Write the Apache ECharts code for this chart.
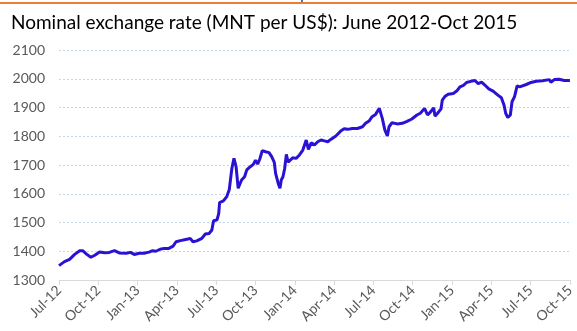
<!DOCTYPE html>
<html>
<head>
<meta charset="utf-8">
<script src="https://cdn.jsdelivr.net/npm/echarts@6/dist/echarts.min.js"></script>
<style>
  html, body { margin: 0; padding: 0; background: #fff; }
  #chart { width: 577px; height: 331px; }
</style>
</head>
<body>
<div id="chart"></div>
<script>
// MNT per US$ observations
const dates = [
  '2012-07-01','2012-07-14','2012-07-26','2012-08-07','2012-08-19','2012-08-26','2012-09-04','2012-09-14','2012-09-23',
  '2012-10-04','2012-10-16','2012-10-27','2012-11-08','2012-11-19','2012-12-05','2012-12-15','2012-12-24',
  '2013-01-05','2013-01-16','2013-01-28','2013-02-05','2013-02-12','2013-02-21','2013-03-02','2013-03-13','2013-03-23','2013-03-30',
  '2013-04-09','2013-04-21','2013-05-02','2013-05-08','2013-05-17','2013-05-29','2013-06-06','2013-06-15','2013-06-21','2013-06-25',
  '2013-07-03','2013-07-07','2013-07-09','2013-07-18','2013-07-26','2013-08-01','2013-08-07','2013-08-12','2013-08-17','2013-08-22',
  '2013-08-26','2013-08-30','2013-09-06','2013-09-11','2013-09-19','2013-09-26','2013-10-01','2013-10-06','2013-10-11','2013-10-17',
  '2013-10-25','2013-11-02','2013-11-08','2013-11-14','2013-11-17','2013-11-23','2013-11-27','2013-11-30','2013-12-04','2013-12-08',
  '2013-12-12','2013-12-16','2013-12-20','2013-12-27',
  '2014-01-04','2014-01-12','2014-01-20','2014-01-28','2014-02-02','2014-02-08','2014-02-15','2014-02-22','2014-03-01','2014-03-09',
  '2014-03-17','2014-03-24','2014-04-05','2014-04-16','2014-04-24','2014-05-02','2014-05-13','2014-05-25','2014-06-06','2014-06-13',
  '2014-06-21','2014-06-28','2014-07-06','2014-07-15','2014-07-22','2014-07-28','2014-08-03','2014-08-07','2014-08-14','2014-08-26',
  '2014-09-07','2014-09-18','2014-09-29','2014-10-11','2014-10-19','2014-10-29','2014-11-05','2014-11-11','2014-11-19','2014-11-22',
  '2014-11-28','2014-12-06','2014-12-09','2014-12-15','2014-12-23',
  '2015-01-04','2015-01-12','2015-01-20','2015-01-28','2015-02-04','2015-02-13','2015-02-22','2015-03-01','2015-03-09','2015-03-16',
  '2015-03-26','2015-04-05','2015-04-16','2015-04-24','2015-04-30','2015-05-04','2015-05-09','2015-05-15','2015-05-19','2015-05-25',
  '2015-05-31','2015-06-06','2015-06-10','2015-06-21','2015-07-02','2015-07-14','2015-07-29','2015-08-14','2015-08-18','2015-08-26',
  '2015-09-06','2015-09-18','2015-10-01'
];
const rates = [
  1350,1364,1372,1389,1402,1402,1390,1379,1386,
  1397,1395,1396,1402,1394,1393,1396,1389,
  1393,1393,1397,1402,1400,1407,1410,1410,1418,1433,
  1437,1441,1444,1433,1436,1445,1460,1462,1474,1506,
  1509,1532,1569,1575,1590,1615,1688,1723,1694,1619,
  1615,1648,1659,1683,1694,1702,1717,1703,1720,1750,
  1746,1743,1729,1709,1671,1636,1619,1648,1659,1688,
  1737,1710,1712,1725,
  1723,1735,1752,1787,1754,1777,1770,1781,1787,1784,
  1781,1789,1801,1818,1826,1824,1827,1827,1833,1845,
  1853,1868,1876,1897,1862,1822,1801,1833,1847,1843,
  1845,1852,1860,1874,1880,1897,1874,1883,1899,1870,
  1880,1895,1926,1938,1946,
  1949,1957,1972,1977,1987,1991,1994,1983,1988,1979,
  1965,1957,1943,1934,1909,1880,1865,1874,1920,1938,
  1975,1972,1975,1980,1987,1991,1993,1997,1988,1997,
  1998,1994,1994
];
// quarterly tick labels, starting July 2012
const tickLabels = ['Jul-12','Oct-12','Jan-13','Apr-13','Jul-13','Oct-13','Jan-14','Apr-14','Jul-14','Oct-14','Jan-15','Apr-15','Jul-15','Oct-15'];

// months elapsed since 1 July 2012
function monthsFromStart(s) {
  const [y, m, d] = s.split('-').map(Number);
  const dim = new Date(y, m, 0).getDate();
  return (y - 2012) * 12 + (m - 7) + (d - 1) / dim;
}
const points = dates.map((d, i) => [monthsFromStart(d), rates[i]]);

const font = 'Lato, "Open Sans", sans-serif';
const chart = echarts.init(document.getElementById('chart'));
chart.setOption({
  animation: false,
  title: {
    text: 'Nominal exchange rate (MNT per US$): June 2012-Oct 2015',
    left: 6, top: 8,
    textStyle: { fontFamily: font, fontSize: 19, fontWeight: 'normal', color: '#000' }
  },
  graphic: [
    { type: 'rect', shape: { x: 0, y: 2, width: 577, height: 2 }, style: { fill: '#ed7d31' } },
    { type: 'rect', shape: { x: 301, y: 0, width: 2, height: 2 }, style: { fill: '#4472c4' } }
  ],
  grid: { left: 59, right: 3, top: 50, bottom: 51 },
  xAxis: {
    type: 'value',
    min: 0, max: 39, interval: 3,
    axisLine: { show: true, lineStyle: { color: '#d9d9d9', width: 1 } },
    axisTick: { show: true, length: 5, lineStyle: { color: '#d9d9d9' } },
    splitLine: { show: false },
    axisLabel: {
      rotate: 45, margin: 8,
      color: '#595959', fontFamily: font, fontSize: 14,
      formatter: v => tickLabels[Math.round(v / 3)] || ''
    }
  },
  yAxis: {
    type: 'value',
    min: 1300, max: 2100, interval: 100,
    axisLine: { show: false },
    axisTick: { show: false },
    axisLabel: { color: '#595959', fontFamily: font, fontSize: 14, margin: 14, formatter: v => String(v) },
    splitLine: { show: true, lineStyle: { color: '#c5d6f0', type: [2, 2], width: 1 } }
  },
  series: [{
    type: 'line',
    data: points,
    showSymbol: false,
    lineStyle: { color: '#2a12d4', width: 3 },
    itemStyle: { color: '#2a12d4' }
  }]
});
</script>
</body>
</html>
